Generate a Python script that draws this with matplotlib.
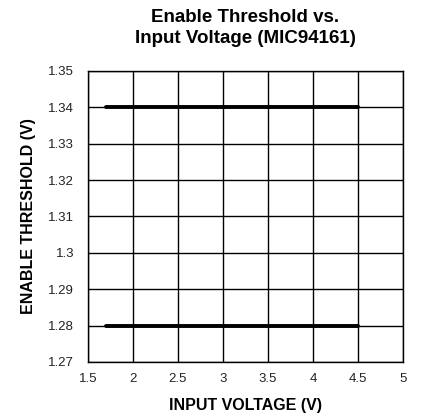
import matplotlib
matplotlib.use("Agg")
import matplotlib.pyplot as plt

plt.rcParams['font.family'] = ['Liberation Sans', 'DejaVu Sans']

vin = [1.7, 4.5]
en_high = [1.34, 1.34]
en_low = [1.28, 1.28]

xticks = [1.5, 2, 2.5, 3, 3.5, 4, 4.5, 5]
yticks = [1.27, 1.28, 1.29, 1.3, 1.31, 1.32, 1.33, 1.34, 1.35]

fig = plt.figure(figsize=(4.22, 4.17), dpi=100)
ax = fig.add_axes([0.2085, 0.132, 0.7465, 0.698])

ax.plot(vin, en_high, color='black', linewidth=2.8, solid_capstyle='round')
ax.plot(vin, en_low, color='black', linewidth=2.8, solid_capstyle='round')

ax.set_xlim(1.5, 5)
ax.set_ylim(1.27, 1.35)
ax.set_xticks(xticks)
ax.set_xticklabels([f"{v:g}" for v in xticks])
ax.set_yticks(yticks)
ax.set_yticklabels([f"{v:g}" for v in yticks])
ax.tick_params(axis='y', length=0, labelsize=9.5, pad=10, colors='#222222')
ax.tick_params(axis='x', length=0, labelsize=9.5, pad=8, colors='#222222')
ax.grid(True, color='black', linewidth=1)
for s in ax.spines.values():
    s.set_linewidth(1)

ax.set_xlabel("INPUT VOLTAGE (V)", fontsize=11.5, fontweight='bold', labelpad=9)
ax.set_ylabel("ENABLE THRESHOLD (V)", fontsize=11.5, fontweight='bold', labelpad=9)
ax.set_title("Enable Threshold vs.\nInput Voltage (MIC94161)", fontsize=13.5,
             fontweight='bold', pad=20, linespacing=1.3)

fig.savefig("out.png", dpi=100)
